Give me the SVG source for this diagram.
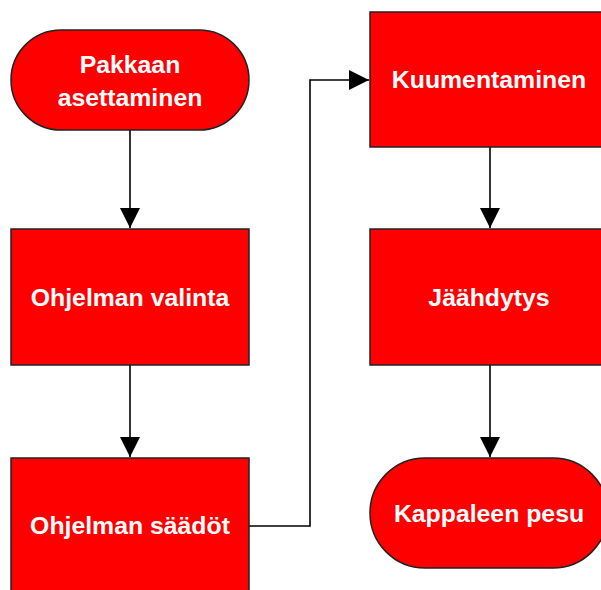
<svg xmlns="http://www.w3.org/2000/svg" width="601" height="590" viewBox="0 0 601 590">
<style>
.node{fill:#ff0000;stroke:#222;stroke-width:1.5}
.lbl{fill:#fff;font-family:"Liberation Sans",Arial,sans-serif;font-weight:bold;font-size:24.8px;text-anchor:middle}
.conn{fill:none;stroke:#000;stroke-width:1.6}
</style>
<defs>
<marker id="arr" viewBox="0 0 20 20" refX="20" refY="10" markerWidth="20" markerHeight="20" markerUnits="userSpaceOnUse" orient="auto">
<path d="M0,0 L20,10 L0,20 z" fill="#000"/>
</marker>
</defs>
<rect width="601" height="590" fill="#fff"/>
<g id="connectors">
<path class="conn" d="M130,130 V228" marker-end="url(#arr)"/>
<path class="conn" d="M130,365 V457" marker-end="url(#arr)"/>
<path class="conn" d="M249,526 H310 V80 H369" marker-end="url(#arr)"/>
<path class="conn" d="M490,147 V228" marker-end="url(#arr)"/>
<path class="conn" d="M490,365 V457" marker-end="url(#arr)"/>
</g>
<g id="n1">
<rect class="node" x="11" y="30" width="238" height="100" rx="50" ry="50"/>
<text class="lbl" x="130" y="73">Pakkaan</text>
<text class="lbl" x="130" y="106">asettaminen</text>
</g>
<g id="n2">
<rect class="node" x="11" y="229" width="238" height="136"/>
<text class="lbl" x="130" y="306">Ohjelman valinta</text>
</g>
<g id="n3">
<rect class="node" x="11" y="458" width="238" height="136"/>
<text class="lbl" x="130" y="534">Ohjelman säädöt</text>
</g>
<g id="n4">
<rect class="node" x="370" y="12" width="238" height="135"/>
<text class="lbl" x="489" y="88">Kuumentaminen</text>
</g>
<g id="n5">
<rect class="node" x="370" y="229" width="238" height="136"/>
<text class="lbl" x="489" y="306">Jäähdytys</text>
</g>
<g id="n6">
<rect class="node" x="370" y="458" width="238" height="110" rx="55" ry="55"/>
<text class="lbl" x="489" y="522">Kappaleen pesu</text>
</g>
</svg>
